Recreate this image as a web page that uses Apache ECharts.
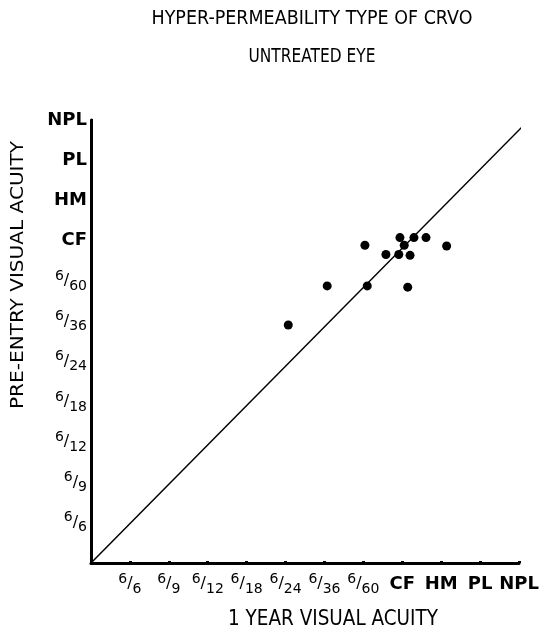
<!DOCTYPE html>
<html>
<head>
<meta charset="utf-8">
<script src="https://cdn.jsdelivr.net/npm/echarts@6/dist/echarts.min.js"></script>
<style>
  html, body { margin: 0; padding: 0; background: #fff; }
  #main { width: 556px; height: 640px; }
</style>
</head>
<body>
<div id="main"></div>
<script>
// acuity scale, 1 = 6/6 ... 11 = NPL
var acuityLabels = ['6/6', '6/9', '6/12', '6/18', '6/24', '6/36', '6/60', 'CF', 'HM', 'PL', 'NPL'];
// 1 year visual acuity (x) vs pre-entry visual acuity (y)
var oneYear = [5.07, 6.07, 7.10, 8.14, 7.04, 7.58, 7.91, 8.20, 7.94, 8.30, 8.61, 8.05, 9.14];
var preEntry = [5.91, 6.88, 6.88, 6.85, 7.89, 7.66, 7.66, 7.64, 8.08, 8.08, 8.08, 7.89, 7.87];
// line of equality
var diagX = [0, 11.1];
var diagY = [0, 10.85];

(function () {
  var chart = echarts.init(document.getElementById('main'));
  var FONT = 'DejaVu Sans';

  // squeeze text horizontally to a wanted width (the original uses a narrow typeface)
  var ctx = document.createElement('canvas').getContext('2d');
  function squeeze(text, size, width) {
    ctx.font = size + 'px "' + FONT + '"';
    return width / ctx.measureText(text).width;
  }

  function label(text, x, y, size, width, rot) {
    var sx = squeeze(text, size, width);
    return {
      type: 'text', x: x, y: y, rotation: rot || 0,
      scaleX: sx,
      style: { text: text, fontFamily: FONT, fontSize: size, fill: '#000', align: 'center', verticalAlign: 'middle' }
    };
  }

  function fmt(v) {
    if (v < 1 || v > 11) return '';
    var s = acuityLabels[v - 1];
    var p = s.split('/');
    if (p.length === 2) {
      return '{n|' + p[0] + '}{s|/}{d|' + p[1] + '}';
    }
    return '{w|' + s + '}';
  }

  var rich = {
    n: { fontSize: 14, fontFamily: FONT, color: '#000', verticalAlign: 'top' },
    s: { fontSize: 16, fontFamily: FONT, color: '#000', lineHeight: 24 },
    d: { fontSize: 14, fontFamily: FONT, color: '#000', verticalAlign: 'bottom' },
    w: { fontSize: 18, fontFamily: FONT, fontWeight: 'bold', color: '#000', lineHeight: 24 }
  };

  var points = oneYear.map(function (x, i) { return [x, preEntry[i]]; });
  var diag = diagX.map(function (x, i) { return [x, diagY[i]]; });

  var axisCommon = {
    type: 'value',
    min: 0,
    max: 11,
    interval: 1,
    splitLine: { show: false },
    axisLine: { show: true, lineStyle: { color: '#000', width: 3 } },
    axisTick: { show: true, inside: true, length: 2, lineStyle: { color: '#000', width: 3 } }
  };

  var option = {
    backgroundColor: '#fff',
    animation: false,
    grid: { left: 91, right: 37, top: 120, bottom: 77 },
    xAxis: Object.assign({}, axisCommon, {
      axisLabel: { formatter: fmt, rich: rich, margin: 9, showMinLabel: false, showMaxLabel: true }
    }),
    yAxis: Object.assign({}, axisCommon, {
      axisLabel: { formatter: fmt, rich: rich, margin: 4, showMinLabel: false, showMaxLabel: true }
    }),
    graphic: [
      label('HYPER-PERMEABILITY TYPE OF CRVO', 312, 19, 20, 321),
      label('UNTREATED EYE', 312, 57, 20, 127),
      label('1 YEAR VISUAL ACUITY', 333, 620, 21, 210),
      label('PRE-ENTRY VISUAL ACUITY', 18, 275, 18, 268, Math.PI / 2)
    ],
    series: [
      {
        type: 'line',
        data: diag,
        symbol: 'none',
        lineStyle: { color: '#000', width: 1.5 }
      },
      {
        type: 'scatter',
        data: points,
        symbolSize: 9,
        itemStyle: { color: '#000', opacity: 1 }
      }
    ]
  };

  chart.setOption(option);
  window.addEventListener('resize', function () {
    chart.resize();
  });
})();
</script>
</body>
</html>
